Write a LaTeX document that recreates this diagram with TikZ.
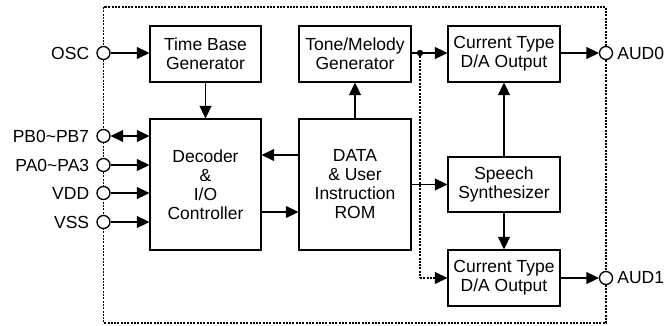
\documentclass[tikz,border=0pt]{standalone}
\usepackage{fontspec}
\setmainfont{Liberation Sans}
\usetikzlibrary{arrows.meta}
\begin{document}
\begin{tikzpicture}[x=1pt,y=-1pt,
  box/.style={draw, line width=1.3pt, align=center, inner sep=0pt,
    font=\fontsize{17.5}{19}\selectfont},
  pin/.style={draw, circle, line width=1.3pt, fill=white, minimum size=13pt, inner sep=0pt},
  lbl/.style={font=\fontsize{17.5}{19}\selectfont, inner sep=0pt},
  arr/.style={line width=1.3pt, -{Triangle[length=12.5pt,width=12pt]}},
  darr/.style={line width=1.3pt, {Triangle[length=12.5pt,width=12pt]}-{Triangle[length=12.5pt,width=12pt]}},
  ln/.style={line width=1.3pt},
  dots/.style={line width=1.1pt, dash pattern=on 2pt off 1.3pt},
]
\useasboundingbox (0,0) rectangle (670,326);
% border
\draw[dots] (103.5,7) rectangle (606,323);
% boxes
\node[box, minimum width=111pt, minimum height=56pt] (tbg) at (205.5,54) {Time Base\\Generator};
\node[box, minimum width=111pt, minimum height=131pt] (dec) at (205.5,184.5) {Decoder\\\&\\I/O\\Controller};
\node[box, minimum width=112pt, minimum height=56pt] (tone) at (355,54) {Tone/Melody\\Generator};
\node[box, minimum width=112pt, minimum height=131pt] (rom) at (355,184.5) {DATA\\\& User\\Instruction\\ROM};
\node[box, minimum width=112pt, minimum height=56pt] (ct0) at (504,54) {Current Type\\D/A Output};
\node[box, minimum width=112pt, minimum height=55pt] (sp) at (504,184.5) {Speech\\Synthesizer};
\node[box, minimum width=112pt, minimum height=56pt] (ct1) at (504,278) {Current Type\\D/A Output};
% pins
\node[pin] (osc) at (103.5,53) {};
\node[pin] (pb) at (103.5,136) {};
\node[pin] (pa) at (103.5,165) {};
\node[pin] (vdd) at (103.5,193) {};
\node[pin] (vss) at (103.5,222) {};
\node[pin] (aud0) at (606,53) {};
\node[pin] (aud1) at (606,278) {};
\node[lbl, anchor=east] (loscl) at ([xshift=-7pt]osc.west) {OSC};
\node[lbl, anchor=east] (lpb) at ([xshift=-7pt]pb.west) {PB0\textasciitilde PB7};
\node[lbl, anchor=east] (lpa) at ([xshift=-7pt]pa.west) {PA0\textasciitilde PA3};
\node[lbl, anchor=east] (lvdd) at ([xshift=-7pt]vdd.west) {VDD};
\node[lbl, anchor=east] (lvss) at ([xshift=-7pt]vss.west) {VSS};
\node[lbl, anchor=west] (laud0) at ([xshift=4pt]aud0.east) {AUD0};
\node[lbl, anchor=west] (laud1) at ([xshift=4pt]aud1.east) {AUD1};
% connectors
\draw[arr] (osc.east) -- (osc.east -| tbg.west);
\draw[darr] (pb.east) -- (pb.east -| dec.west);
\draw[arr] (pa.east) -- (pa.east -| dec.west);
\draw[arr] (vdd.east) -- (vdd.east -| dec.west);
\draw[arr] (vss.east) -- (vss.east -| dec.west);
\draw[arr] (tbg.south) -- (dec.north);
\draw[arr] (rom.north) -- (tone.south);
\draw[arr] ([yshift=29.5pt]rom.west) -- ([yshift=29.5pt]dec.east);
\draw[arr] ([yshift=-27.5pt]dec.east) -- ([yshift=-27.5pt]rom.west);
\draw[arr] (rom.east |- sp.west) -- (sp.west);
\coordinate (dot) at (420,53);
\fill (dot) circle (3.2pt);
\draw[ln] (tone.east |- dot) -- (dot);
\draw[arr] (dot) -- (dot -| ct0.west);
\draw[dots] (dot) -- (dot |- ct1.west);
\draw[dots, -{Triangle[length=12.5pt,width=12pt]}] (dot |- ct1.west) -- (ct1.west);
\draw[arr] (sp.north) -- (ct0.south);
\draw[arr] (sp.south) -- (ct1.north);
\draw[arr] (ct0.east |- aud0) -- (aud0.west);
\draw[arr] (ct1.east |- aud1) -- (aud1.west);
\end{tikzpicture}
\end{document}
